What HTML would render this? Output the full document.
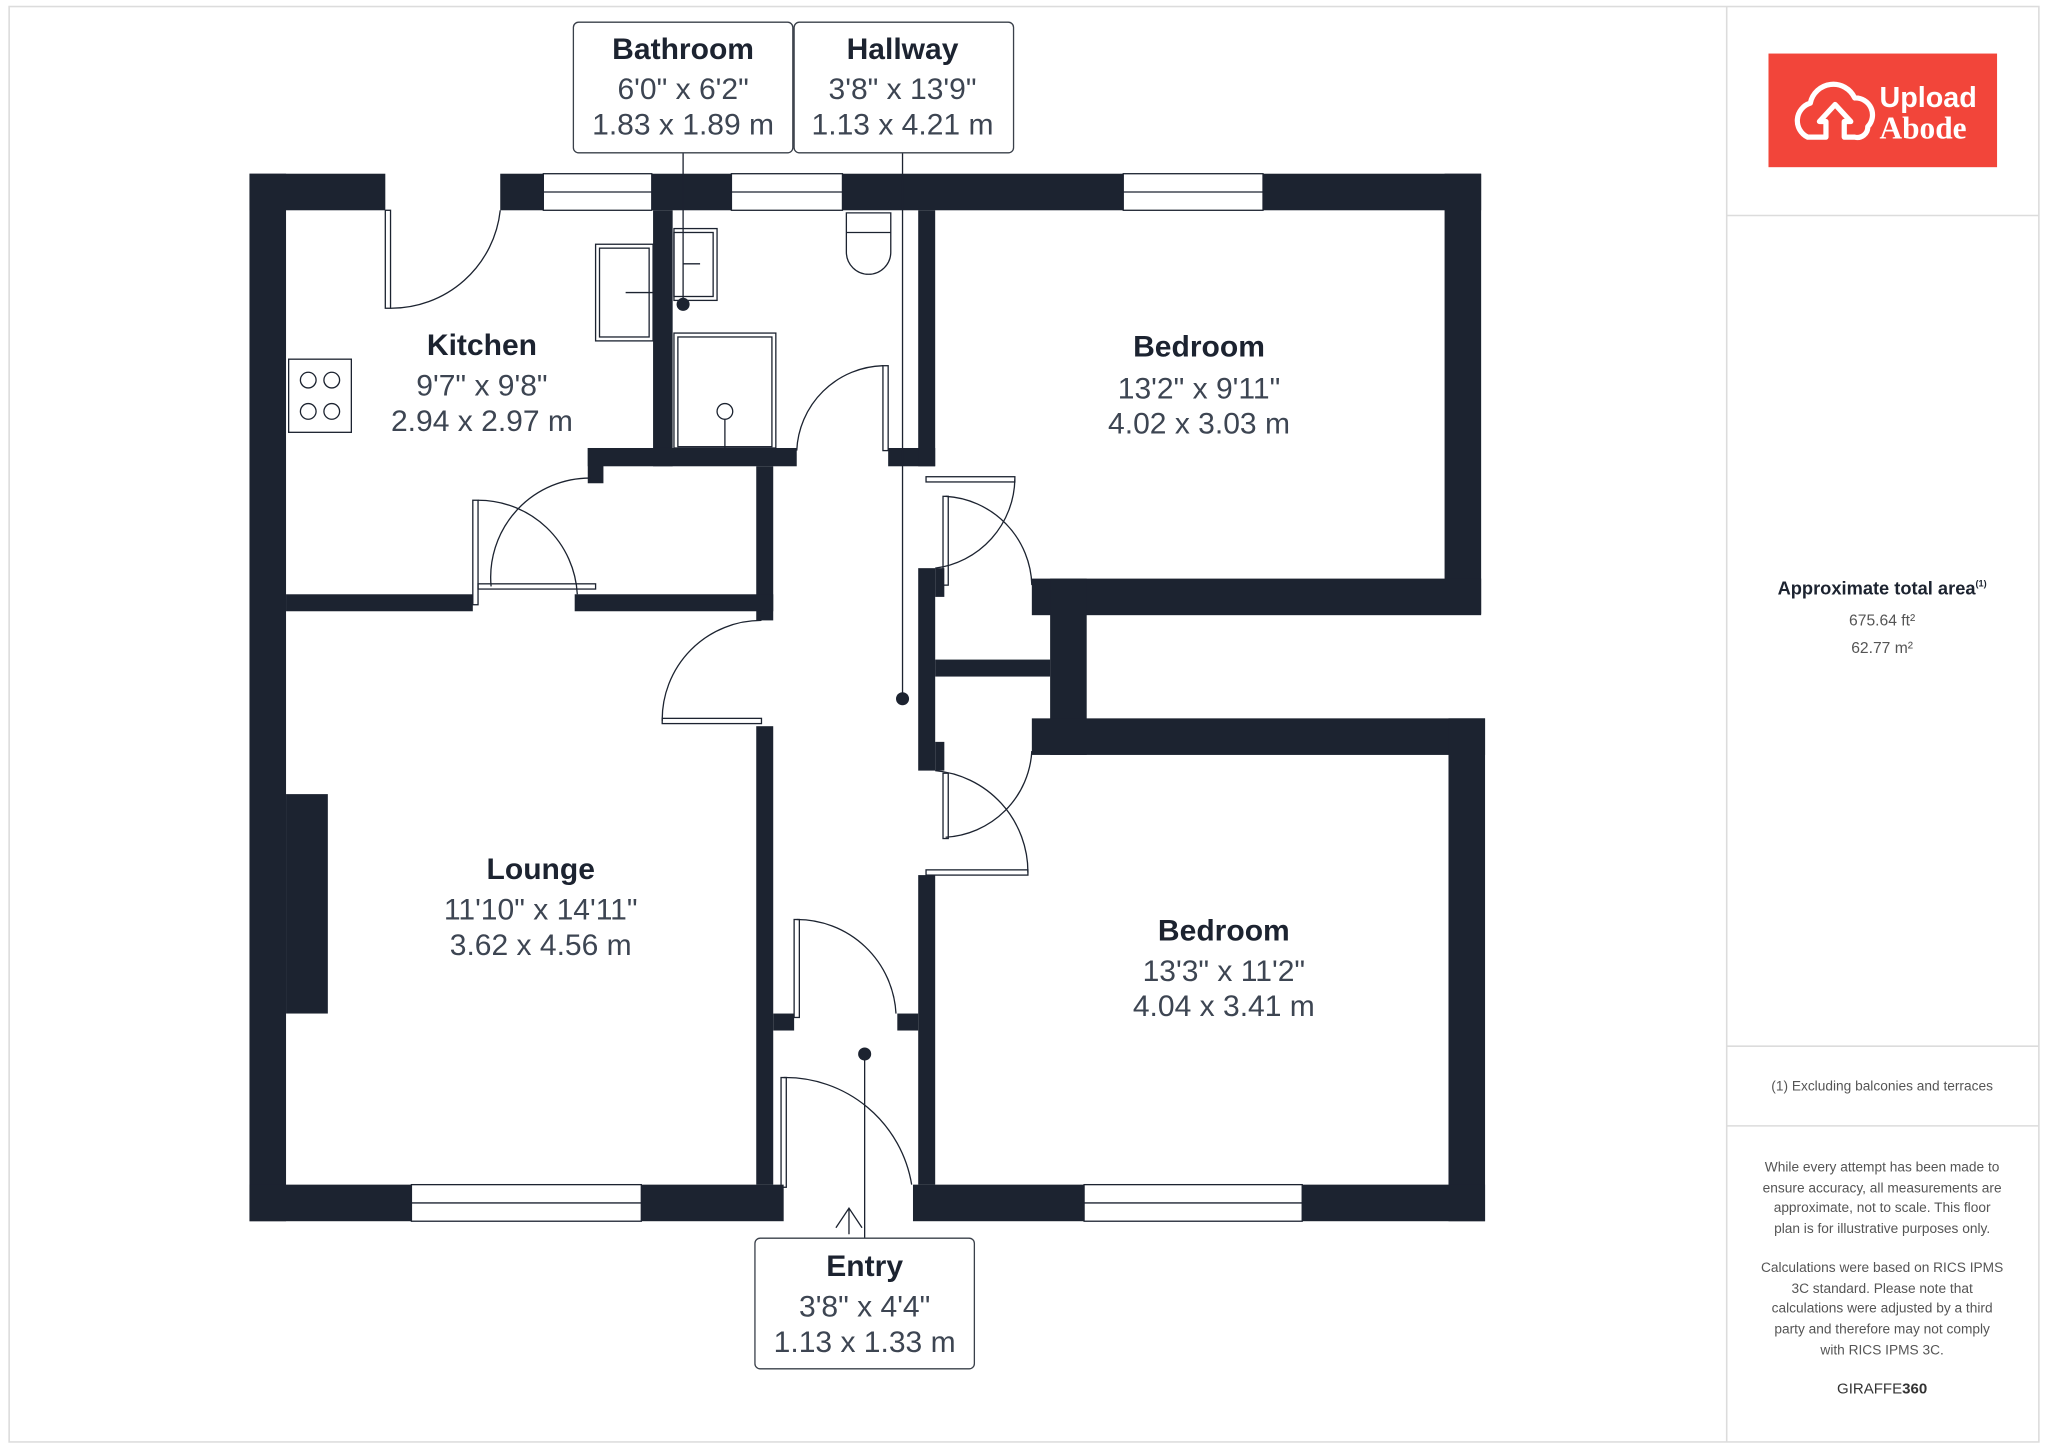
<!DOCTYPE html>
<html><head><meta charset="utf-8"><style>
html,body{margin:0;padding:0;background:#fff;}
svg{display:block}
.t{font-family:"Liberation Sans",sans-serif;}
</style></head><body>
<svg width="2048" height="1449" viewBox="0 0 1568 1109.4" preserveAspectRatio="none" xmlns="http://www.w3.org/2000/svg">
<rect x="0" y="0" width="1568" height="1110" fill="#fff"/>
<rect x="7" y="5" width="1554" height="1099" fill="none" stroke="#dcdcdc" stroke-width="1.2"/>
<line x1="1322" y1="5" x2="1322" y2="1104" stroke="#dcdcdc" stroke-width="1.2"/>
<line x1="1322" y1="165" x2="1561" y2="165" stroke="#dcdcdc" stroke-width="1.2"/>
<line x1="1322" y1="801" x2="1561" y2="801" stroke="#dcdcdc" stroke-width="1.2"/>
<line x1="1322" y1="862" x2="1561" y2="862" stroke="#dcdcdc" stroke-width="1.2"/>

<!-- logo -->
<rect x="1354" y="41" width="175" height="87" fill="#f2453a"/>
<path d="M1384 105 a14 14 0 0 1 2 -26 a18 18 0 0 1 34 -4 a13 13 0 0 1 10 22 a8 8 0 0 1 -10 8 l-8 0 l0 -12 l5 0 l-12 -13 l-12 13 l5 0 l0 12 z" fill="none" stroke="#fff" stroke-width="4" stroke-linejoin="round"/>
<text x="1439" y="82" class="t" font-size="22" font-weight="bold" fill="#fff">Upload</text>
<text x="1439" y="106" font-family="Liberation Serif,serif" font-size="24" font-weight="bold" fill="#fff">Abode</text>

<text x="1441" y="455" text-anchor="middle" class="t" font-size="14" font-weight="bold" fill="#1c2330">Approximate total area<tspan font-size="7" dy="-6">(1)</tspan></text>
<text x="1441" y="479" text-anchor="middle" class="t" font-size="12" fill="#555">675.64 ft²</text>
<text x="1441" y="500" text-anchor="middle" class="t" font-size="12" fill="#555">62.77 m²</text>
<text x="1441" y="835" text-anchor="middle" class="t" font-size="10.5" fill="#555">(1) Excluding balconies and terraces</text>
<g class="t" font-size="10.5" fill="#555" text-anchor="middle">
<text x="1441" y="897">While every attempt has been made to</text>
<text x="1441" y="913">ensure accuracy, all measurements are</text>
<text x="1441" y="928">approximate, not to scale. This floor</text>
<text x="1441" y="944">plan is for illustrative purposes only.</text>
<text x="1441" y="974">Calculations were based on RICS IPMS</text>
<text x="1441" y="990">3C standard. Please note that</text>
<text x="1441" y="1005">calculations were adjusted by a third</text>
<text x="1441" y="1021">party and therefore may not comply</text>
<text x="1441" y="1037">with RICS IPMS 3C.</text>
</g>
<text x="1441" y="1067" text-anchor="middle" class="t" font-size="11.5" fill="#333">GIRAFFE<tspan font-weight="bold">360</tspan></text>

<!-- walls -->
<g fill="#1c2330">
<rect x="191" y="133" width="104" height="28"/>
<rect x="191" y="133" width="28" height="802"/>
<rect x="383" y="133" width="33" height="28"/>
<rect x="499" y="133" width="61" height="28"/>
<rect x="645" y="133" width="215" height="28"/>
<rect x="967" y="133" width="167" height="28"/>
<rect x="1106" y="133" width="28" height="337"/>
<rect x="790" y="443" width="344" height="28"/>
<rect x="804" y="443" width="28" height="135"/>
<rect x="790" y="550" width="347" height="28"/>
<rect x="1109" y="550" width="28" height="385"/>
<rect x="191" y="907" width="124" height="28"/>
<rect x="491" y="907" width="109" height="28"/>
<rect x="699" y="907" width="131" height="28"/>
<rect x="997" y="907" width="140" height="28"/>
<rect x="500" y="161" width="15" height="196"/>
<rect x="450" y="343" width="160" height="14"/>
<rect x="450" y="343" width="12" height="27"/>
<rect x="680" y="343" width="36" height="14"/>
<rect x="703" y="161" width="13" height="196"/>
<rect x="579" y="357" width="13" height="118"/>
<rect x="440" y="455" width="152" height="13"/>
<rect x="219" y="455" width="143" height="13"/>
<rect x="579" y="556" width="13" height="351"/>
<rect x="592" y="776" width="16" height="13"/>
<rect x="687" y="776" width="16" height="13"/>
<rect x="703" y="435" width="13" height="155"/>
<rect x="703" y="670" width="13" height="237"/>
<rect x="716" y="505" width="88" height="13"/>
<rect x="716" y="435" width="7" height="22"/>
<rect x="716" y="568" width="7" height="22"/>
<rect x="219" y="608" width="32" height="168"/>
</g>
<g fill="none" stroke="#1c2330" stroke-width="1">
<rect x="416" y="133" width="83" height="28"/><line x1="416" y1="147" x2="499" y2="147"/>
<rect x="560" y="133" width="85" height="28"/><line x1="560" y1="147" x2="645" y2="147"/>
<rect x="860" y="133" width="107" height="28"/><line x1="860" y1="147" x2="967" y2="147"/>
<rect x="315" y="907" width="176" height="28"/><line x1="315" y1="921" x2="491" y2="921"/>
<rect x="830" y="907" width="167" height="28"/><line x1="830" y1="921" x2="997" y2="921"/>
<rect x="295" y="161" width="4" height="75"/><path d="M299 236 A84 84 0 0 0 383 161"/>
<rect x="362" y="383" width="4" height="80"/><path d="M366 383 A76 76 0 0 1 442 455"/>
<rect x="366" y="447" width="90" height="4"/><path d="M376 449 A76 76 0 0 1 452 366"/>
<rect x="507" y="550" width="76" height="4"/><path d="M507 552 A76 76 0 0 1 583 475"/>
<rect x="676" y="280" width="4" height="65"/><path d="M676 280 A68 68 0 0 0 610 345"/>
<rect x="709" y="365" width="68" height="4"/><path d="M777 367 A70 70 0 0 1 716 435"/>
<rect x="722" y="380" width="4" height="68"/><path d="M724 380 A70 70 0 0 1 790 448"/>
<rect x="709" y="666" width="78" height="4"/><path d="M787 668 A78 78 0 0 0 716 590"/>
<rect x="722" y="592" width="4" height="50"/><path d="M724 641 A70 70 0 0 0 790 575"/>
<rect x="608" y="704" width="4" height="75"/><path d="M610 704 A76 76 0 0 1 686 776"/>
<rect x="598" y="825" width="4" height="84"/><path d="M600 825 A98 98 0 0 1 698 907"/>
<rect x="221" y="275" width="48" height="56"/>
<circle cx="236" cy="291" r="6"/><circle cx="254" cy="291" r="6"/><circle cx="236" cy="315" r="6"/><circle cx="254" cy="315" r="6"/>
<rect x="456" y="187" width="44" height="74"/><rect x="459" y="190" width="38" height="68"/><line x1="479" y1="224" x2="500" y2="224"/>
<rect x="516" y="175" width="33" height="55"/><rect x="516" y="178" width="30" height="49"/><line x1="523" y1="202" x2="536" y2="202"/>
<rect x="516" y="255" width="78" height="88"/><rect x="519" y="258" width="72" height="84"/>
<circle cx="555" cy="315" r="6"/><line x1="555" y1="321" x2="555" y2="343"/>
<path d="M648 163 h34 v30 a17 17 0 0 1 -34 0 z"/><line x1="648" y1="178" x2="682" y2="178"/>
<line x1="523" y1="117" x2="523" y2="233"/>
<line x1="691" y1="117" x2="691" y2="535"/>
<line x1="662" y1="807" x2="662" y2="948"/>
<path d="M640 940 L650 925 L660 940 M650 925 V945"/>
</g>
<g fill="#1c2330">
<circle cx="523" cy="233" r="5"/><circle cx="691" cy="535" r="5"/><circle cx="662" cy="807" r="5"/>
</g>

<g fill="#fff" stroke="#3a404a" stroke-width="1">
<rect x="439" y="17" width="168" height="100" rx="4"/>
<rect x="608" y="17" width="168" height="100" rx="4"/>
<rect x="578" y="948" width="168" height="100" rx="4"/>
</g>
<g class="t" text-anchor="middle">
<g font-weight="bold" fill="#1c2330" font-size="23">
<text x="523" y="45">Bathroom</text><text x="691" y="45">Hallway</text><text x="662" y="977">Entry</text>
<text x="369" y="272">Kitchen</text><text x="918" y="273">Bedroom</text>
<text x="414" y="673">Lounge</text><text x="937" y="720">Bedroom</text>
</g>
<g fill="#3d4552" font-size="23">
<text x="523" y="76">6'0" x 6'2"</text><text x="523" y="103">1.83 x 1.89 m</text>
<text x="691" y="76">3'8" x 13'9"</text><text x="691" y="103">1.13 x 4.21 m</text>
<text x="662" y="1008">3'8" x 4'4"</text><text x="662" y="1035">1.13 x 1.33 m</text>
<text x="369" y="303">9'7" x 9'8"</text><text x="369" y="330">2.94 x 2.97 m</text>
<text x="918" y="305">13'2" x 9'11"</text><text x="918" y="332">4.02 x 3.03 m</text>
<text x="414" y="704">11'10" x 14'11"</text><text x="414" y="731">3.62 x 4.56 m</text>
<text x="937" y="751">13'3" x 11'2"</text><text x="937" y="778">4.04 x 3.41 m</text>
</g>
</g>
</svg>
</body></html>
